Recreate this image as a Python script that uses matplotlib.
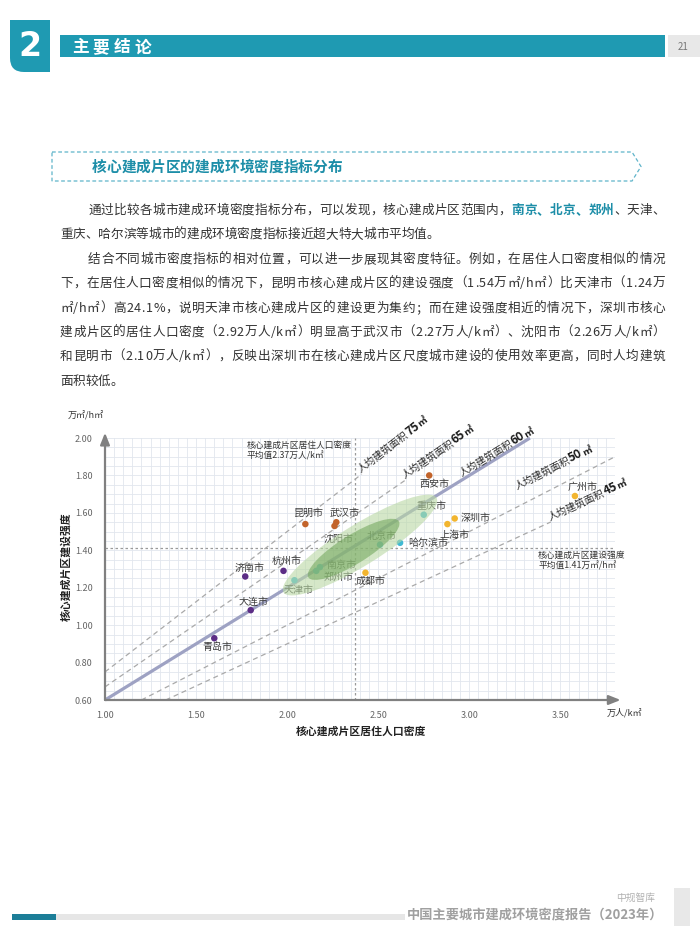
import numpy as np
import matplotlib
matplotlib.use('Agg')
import matplotlib.pyplot as plt
from matplotlib.patches import Ellipse, Rectangle, PathPatch
from matplotlib.path import Path
from matplotlib.font_manager import findfont, FontProperties, get_font
from matplotlib import ft2font

plt.rcParams['font.family'] = ['Noto Sans CJK SC', 'DejaVu Sans']
plt.rcParams['axes.unicode_minus'] = False

# ---------------- data ----------------
cities = ['青岛市', '大连市', '济南市', '杭州市', '天津市', '南京市', '郑州市', '昆明市', '武汉市',
          '沈阳市', '北京市', '哈尔滨市', '重庆市', '成都市', '上海市', '深圳市', '西安市', '广州市']
density = [1.60, 1.80, 1.77, 1.98, 2.04, 2.18, 2.16, 2.10, 2.27,
           2.26, 2.51, 2.62, 2.75, 2.43, 2.88, 2.92, 2.78, 3.58]
intensity = [0.93, 1.08, 1.26, 1.29, 1.24, 1.31, 1.29, 1.54, 1.55,
             1.53, 1.43, 1.44, 1.59, 1.28, 1.54, 1.57, 1.80, 1.69]
city_group = ['purple', 'purple', 'purple', 'purple', 'teal', 'teal', 'teal', 'orange', 'orange',
              'orange', 'teal', 'teal', 'teal', 'gold', 'gold', 'gold', 'orange', 'gold']

area_labels = ['75', '65', '60', '50', '45']
area_slopes = [0.75, 0.67, 0.60, 0.50, 0.45]
avg_density = 2.37
avg_intensity = 1.41
x_ticks = [1.0, 1.5, 2.0, 2.5, 3.0, 3.5]
y_ticks = [0.6, 0.8, 1.0, 1.2, 1.4, 1.6, 1.8, 2.0]

# ---------------- styles / layout ----------------
group_colors = {'purple': '#5c2d86', 'teal': '#3fb8d3', 'orange': '#c2642b', 'gold': '#f2b52f'}
label_offsets = {  # pixels (dx, dy up), ha
    '青岛市': (3, -9, 'center'), '大连市': (3, 8, 'center'), '济南市': (4, 9, 'center'),
    '杭州市': (3, 10, 'center'), '天津市': (4, -10, 'center'), '南京市': (6, 2, 'left'),
    '郑州市': (7, -6, 'left'), '昆明市': (4, 11, 'center'), '武汉市': (8, 9, 'center'),
    '沈阳市': (4, -13, 'center'), '北京市': (2, 9, 'center'), '哈尔滨市': (8, 0, 'left'),
    '重庆市': (8, 9, 'center'), '成都市': (5, -8, 'center'), '上海市': (7, -11, 'center'),
    '深圳市': (6, 0, 'left'), '西安市': (5, -9, 'center'), '广州市': (8, 9, 'center'),
}
line_x_end = [2.41, 2.65, 3.333, 3.80, 3.448]
label_x = [2.41, 2.65, 2.967, 3.30, 3.448]
label_perp = [1.5, 1.5, 2.5, 15, 1.5]

W, H, DPI = 700, 934, 100
fig = plt.figure(figsize=(W / DPI, H / DPI), dpi=DPI)
fig.patch.set_facecolor('white')

CJK = 'Noto Sans CJK SC'
TEAL = '#1f9ab2'
TXT = '#333333'

_fonts = {}
def _font(family, weight):
    key = (family, weight)
    if key not in _fonts:
        _fonts[key] = get_font(findfont(FontProperties(family=family, weight=weight)))
    return _fonts[key]

try:
    NOSCALE = ft2font.LoadFlags.NO_SCALE
except Exception:
    NOSCALE = ft2font.LOAD_NO_SCALE

_adv = {}
def adv(ch, size, weight='normal'):
    key = (ch, weight)
    if key not in _adv:
        f = _font(CJK, weight)
        if f.get_char_index(ord(ch)) == 0:
            f = _font('DejaVu Sans', weight)
        g = f.load_char(ord(ch), flags=NOSCALE)
        _adv[key] = g.horiAdvance / f.units_per_EM
    return _adv[key] * size * DPI / 72.0

# background axes in pixel coordinates (y down)
bg = fig.add_axes([0, 0, 1, 1], zorder=-1)
bg.set_xlim(0, W)
bg.set_ylim(H, 0)
bg.axis('off')

def draw_chars(x0, yc, segs, size, x1=None, extra=0.0):
    em = size * DPI / 72.0
    items = [(ch, c, w) for s, c, w in segs for ch in s]
    advs = [adv(ch, size, w) for ch, c, w in items]
    gap = extra
    if x1 is not None and len(items) > 1:
        gap = (x1 - x0 - sum(advs)) / (len(items) - 1)
    x = x0
    base = yc + 0.38 * em
    for (ch, c, w), a in zip(items, advs):
        bg.text(x, base, ch, fontsize=size, color=c, weight=w, ha='left', va='baseline')
        x += a + gap

# ---------------- header ----------------
verts = [(10, 20), (50, 20), (50, 72), (24, 72), (10, 72), (10, 58), (10, 20)]
codes = [Path.MOVETO, Path.LINETO, Path.LINETO, Path.LINETO, Path.CURVE3, Path.CURVE3, Path.CLOSEPOLY]
bg.add_patch(PathPatch(Path(verts, codes), facecolor=TEAL, edgecolor='none'))
bg.text(30, 47, '2', fontsize=24, color='white', weight='bold', ha='center', va='center',
        family='DejaVu Sans')
bg.add_patch(Rectangle((60, 35), 605, 22, facecolor=TEAL, edgecolor='none'))
bg.add_patch(Rectangle((668, 35), 32, 22, facecolor='#e8e8e8', edgecolor='none'))
bg.text(683, 46.5, '21', fontsize=7, color='#777777', ha='center', va='center')
draw_chars(72, 46, [('主要结论', 'white', 'bold')], 12, extra=4)

# ---------------- section title ----------------
sv = [(52, 152), (632, 152), (641, 166.5), (632, 181), (52, 181), (52, 152)]
bg.add_patch(PathPatch(Path(sv), facecolor='none', edgecolor='#5fb4ca', lw=0.9,
                       linestyle=(0, (3, 2))))
draw_chars(92, 166.5, [('核心建成片区的建成环境密度指标分布', '#1d8ea8', 'bold')], 10.6)

# ---------------- paragraph ----------------
P = 9.1
R = 665
lines = [
    (88, 209, [('通过比较各城市建成环境密度指标分布，可以发现，核心建成片区范围内，', TXT, 'normal'),
               ('南京、北京、郑州', '#1d8ea8', 'bold'), ('、天津、', TXT, 'normal')], R),
    (60, 233, [('重庆、哈尔滨等城市的建成环境密度指标接近超大特大城市平均值。', TXT, 'normal')], None),
    (88, 258, [('结合不同城市密度指标的相对位置，可以进一步展现其密度特征。例如，在居住人口密度相似的情况', TXT, 'normal')], R),
    (60, 282, [('下，在居住人口密度相似的情况下，昆明市核心建成片区的建设强度（1.54万㎡/h㎡）比天津市（1.24万', TXT, 'normal')], R),
    (60, 307, [('㎡/h㎡）高24.1%，说明天津市核心建成片区的建设更为集约；而在建设强度相近的情况下，深圳市核心', TXT, 'normal')], R),
    (60, 331, [('建成片区的居住人口密度（2.92万人/k㎡）明显高于武汉市（2.27万人/k㎡）、沈阳市（2.26万人/k㎡）', TXT, 'normal')], R),
    (60, 355, [('和昆明市（2.10万人/k㎡），反映出深圳市在核心建成片区尺度城市建设的使用效率更高，同时人均建筑', TXT, 'normal')], R),
    (60, 380, [('面积较低。', TXT, 'normal')], None),
]
for x0, yc, segs, x1 in lines:
    draw_chars(x0, yc, segs, P, x1=x1)

# ---------------- footer ----------------
bg.add_patch(Rectangle((12, 914), 393, 6, facecolor='#e6e6e6', edgecolor='none'))
bg.add_patch(Rectangle((12, 914), 44, 6, facecolor='#1c7e98', edgecolor='none'))
bg.text(655, 898, '中规智库', fontsize=7, color='#b0b0b0', ha='right', va='center')
bg.text(663, 915, '中国主要城市建成环境密度报告（2023年）', fontsize=9.5, color='#a0a0a0',
        weight='bold', ha='right', va='center')
bg.add_patch(Rectangle((674, 888), 16, 38, facecolor='#e8e8e8', edgecolor='none'))

# ---------------- chart ----------------
ax = fig.add_axes([105 / W, 1 - 700 / H, 510 / W, 262 / H], zorder=1)
ax.set_xlim(1.0, 3.8)
ax.set_ylim(0.6, 2.0)
ax.patch.set_alpha(0)
for sp in ax.spines.values():
    sp.set_visible(False)
ax.set_xticks(x_ticks)
ax.set_yticks(y_ticks)
ax.set_xticklabels(['%.2f' % v for v in x_ticks])
ax.set_yticklabels(['%.2f' % v for v in y_ticks])
ax.set_xticks(np.arange(1.0, 3.8001, 0.05), minor=True)
ax.set_yticks(np.arange(0.6, 2.0001, 0.05), minor=True)
ax.tick_params(which='both', length=0)
ax.tick_params(axis='x', pad=8, labelsize=6.5, labelcolor='#666666')
ax.tick_params(axis='y', pad=9, labelsize=6.5, labelcolor='#666666')
ax.grid(True, which='both', color='#e2e6ee', lw=0.6)
ax.set_axisbelow(True)

# axis arrows
arrow_kw = dict(arrowstyle='-|>,head_length=0.7,head_width=0.28', color='#808080', lw=1.6,
                shrinkA=0, shrinkB=0)
ax.annotate('', xy=(1.011, 0), xytext=(0, 0), xycoords='axes fraction',
            arrowprops=arrow_kw, annotation_clip=False, zorder=6)
ax.annotate('', xy=(0, 1.02), xytext=(0, 0), xycoords='axes fraction',
            arrowprops=arrow_kw, annotation_clip=False, zorder=6)

# average lines
ax.axvline(avg_density, color='#9a9a9a', lw=0.9, ls=(0, (2, 2)), zorder=1.5)
ax.axhline(avg_intensity, color='#9a9a9a', lw=0.9, ls=(0, (2, 2)), zorder=1.5)
ax.text(1.778, 1.932, '核心建成片区居住人口密度\n平均值%.2f万人/k㎡' % avg_density, fontsize=6.3,
        color=TXT, ha='left', va='center', linespacing=1.25)
ax.text(3.378, 1.343, '核心建成片区建设强度\n平均值%.2f万㎡/h㎡' % avg_intensity, fontsize=6.3,
        color=TXT, ha='left', va='center', linespacing=1.25)

# per-capita floor area lines
for lbl, k, xe in zip(area_labels, area_slopes, line_x_end):
    xs = np.array([max(1.0, 0.6 / k), xe])
    if lbl == '60':
        ax.plot(xs, k * xs, color='#9ea2c3', lw=2.3, solid_capstyle='butt', zorder=2, clip_on=False)
    else:
        ax.plot(xs, k * xs, color='#a9a9a9', lw=0.9, ls=(0, (4, 3)), zorder=2)

fig.canvas.draw()

def rot_label(xa, k, perp, parts):
    p0 = ax.transData.transform((xa, k * xa))
    p1 = ax.transData.transform((xa + 0.5, k * (xa + 0.5)))
    d = p1 - p0
    u = d / np.linalg.norm(d)
    n = np.array([-u[1], u[0]])
    ang = np.degrees(np.arctan2(u[1], u[0]))
    p = p0 + n * perp
    for s, size, weight, color in parts:
        fig.text(p[0] / W, p[1] / H, s, fontsize=size, weight=weight, color=color, rotation=ang,
                 rotation_mode='anchor', ha='left', va='baseline', zorder=5)
        p = p + u * sum(adv(ch, size, weight) for ch in s)

for lbl, k, xa, pp in zip(area_labels, area_slopes, label_x, label_perp):
    rot_label(xa, k, pp, [('人均建筑面积', 7.3, 'normal', '#2a2a2a'),
                          (lbl, 8.6, 'bold', '#1a1a1a'),
                          ('㎡', 7.0, 'bold', '#1a1a1a')])

# scatter points and labels
for c, xv, yv, g in zip(cities, density, intensity, city_group):
    ax.scatter([xv], [yv], s=22, color=group_colors[g], edgecolor='none', zorder=3)
    dx, dy, ha = label_offsets[c]
    ax.annotate(c, (xv, yv), xytext=(dx, dy), textcoords='offset pixels', fontsize=7.2,
                color='#3a3a3a', ha=ha, va='center', zorder=3)

# concentration ellipses
ax.add_patch(Ellipse((2.40, 1.428), 0.98, 0.22, angle=31, facecolor='#b9d8a4', edgecolor='none',
                     alpha=0.6, zorder=4))
ax.add_patch(Ellipse((2.365, 1.405), 0.58, 0.155, angle=31, facecolor='#6ea457', edgecolor='none',
                     alpha=0.55, zorder=4.1))

# axis titles / units
bg.text(86, 416, '万㎡/h㎡', fontsize=6.5, color=TXT, ha='center', va='center')
bg.text(624, 713, '万人/k㎡', fontsize=6.5, color=TXT, ha='center', va='center')
bg.text(361, 732, '核心建成片区居住人口密度', fontsize=7.8, color='#222222', weight='bold',
        ha='center', va='center')
bg.text(66, 567, '核心建成片区建设强度', fontsize=7.8, color='#222222', weight='bold',
        ha='center', va='center', rotation=90)

fig.savefig('out.png', dpi=DPI)
